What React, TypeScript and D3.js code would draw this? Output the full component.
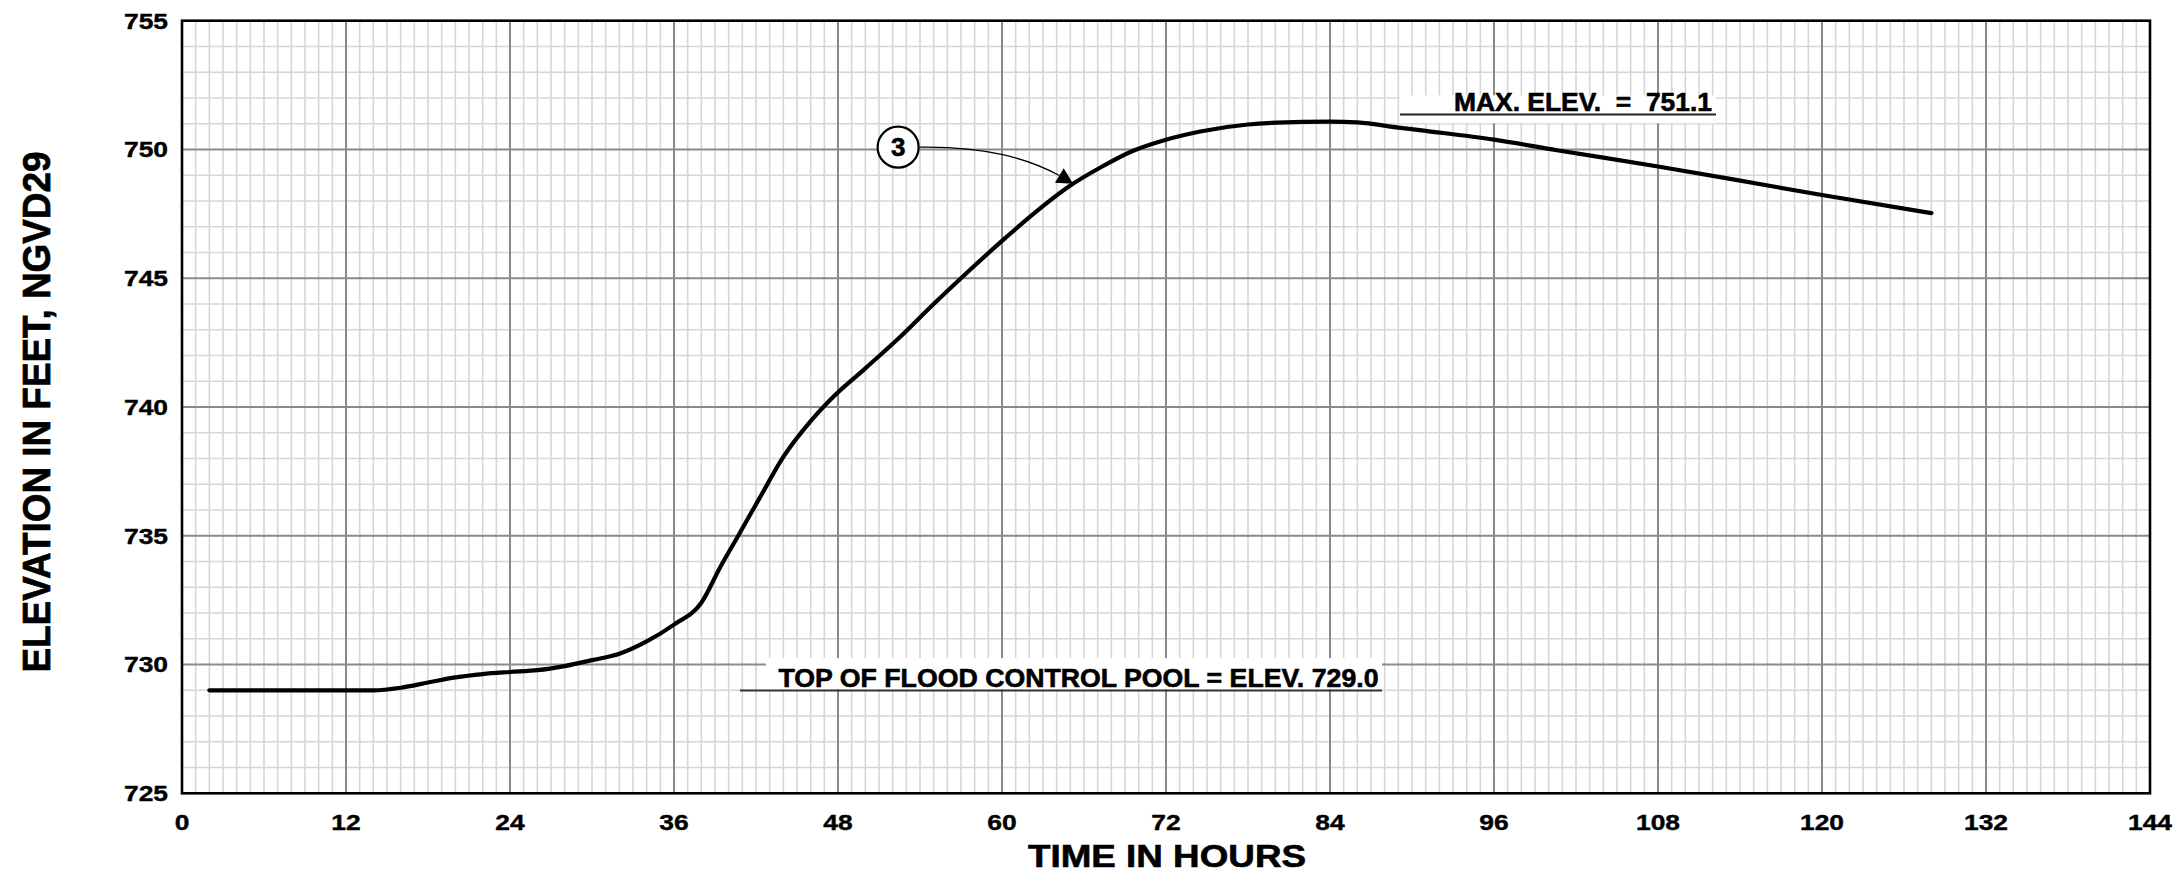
import React from "react";
import * as d3 from "d3";

// ---- data ----
const hours = [2, 14, 16, 18, 20, 22, 24, 26, 28, 30, 32, 34, 36, 38, 39.4, 40.7, 42.3, 44, 46, 47.4, 50, 52.5, 55, 57, 60, 62.3, 65, 67.2, 69.6, 72, 74.5, 78, 82, 84, 86, 89, 91, 96, 100.6, 108, 113.5, 120, 128];
const elevation = [729.0, 729.0, 729.1, 729.3, 729.5, 729.63, 729.71, 729.78, 729.94, 730.17, 730.42, 730.9, 731.55, 732.4, 733.8, 735.0, 736.5, 738.06, 739.45, 740.26, 741.5, 742.7, 744.0, 745.0, 746.45, 747.5, 748.6, 749.3, 749.95, 750.38, 750.7, 750.97, 751.07, 751.08, 751.05, 750.85, 750.72, 750.38, 749.97, 749.34, 748.84, 748.23, 747.53];
const xTickValues = [0, 12, 24, 36, 48, 60, 72, 84, 96, 108, 120, 132, 144];
const yTickValues = [725, 730, 735, 740, 745, 750, 755];
const xLabel = "TIME IN HOURS";
const yLabel = "ELEVATION IN FEET, NGVD29";
const maxLabel = "MAX. ELEV.  =  751.1";
const poolLabel = "TOP OF FLOOD CONTROL POOL = ELEV. 729.0";
const curveId = "3";

const W = 2178;
const H = 882;
const FONT = "'Liberation Sans', Arial, Helvetica, sans-serif";

export default function App() {
  const x = d3.scaleLinear().domain([0, 144]).range([182, 2150]);
  const y = d3.scaleLinear().domain([725, 755]).range([793.3, 20.7]);
  const pts: [number, number][] = hours.map((h, i) => [h, elevation[i]]);
  const line = d3
    .line<[number, number]>()
    .x((d) => x(d[0]))
    .y((d) => y(d[1]))
    .curve(d3.curveMonotoneX);

  const minorX = d3.range(1, 144).filter((h) => h % 12 !== 0);
  const minorY = d3.range(726, 755).filter((v) => v % 5 !== 0);

  // callout "3"
  const cx = x(52.4);
  const cy = y(750.09);
  const r = 20.5;
  const tipX = x(65.2);
  const tipY = y(748.67);
  const ang = (31 * Math.PI) / 180;
  const L = 16;
  const hw = 8.5;
  const bx = tipX - L * Math.cos(ang);
  const by = tipY - L * Math.sin(ang);
  const px = -Math.sin(ang);
  const py = Math.cos(ang);
  const arrow = `M${tipX},${tipY} L${bx + px * hw},${by + py * hw} L${bx - px * hw},${by - py * hw} Z`;
  const leader = `M${cx + r + 1},${cy} C${cx + 90},${cy - 1} ${bx - 30},${by - 16} ${bx},${by}`;

  const heavy = { stroke: "#000", strokeWidth: 0.6 } as const;

  return (
    <svg
      width={W}
      height={H}
      style={{ position: "absolute", left: 0, top: 0, background: "#fff" }}
      fontFamily={FONT}
    >
      <rect x={0} y={0} width={W} height={H} fill="#fff" />
      {/* minor grid */}
      <g stroke="#d6d6d6" strokeWidth={1.6}>
        {minorX.map((h) => (
          <line key={"mx" + h} x1={x(h)} x2={x(h)} y1={y(725)} y2={y(755)} />
        ))}
        {minorY.map((v) => (
          <line key={"my" + v} x1={x(0)} x2={x(144)} y1={y(v)} y2={y(v)} />
        ))}
      </g>
      {/* major grid */}
      <g stroke="#8a8a8a" strokeWidth={2}>
        {xTickValues.slice(1, -1).map((h) => (
          <line key={"Mx" + h} x1={x(h)} x2={x(h)} y1={y(725)} y2={y(755)} />
        ))}
        {yTickValues.slice(1, -1).map((v) => (
          <line key={"My" + v} x1={x(0)} x2={x(144)} y1={y(v)} y2={y(v)} />
        ))}
      </g>

      {/* annotation boxes */}
      <rect x={1400} y={y(752.1)} width={316} height={y(751.0) - y(752.1) - 0.5} fill="#fff" />
      <rect x={766} y={y(730.25)} width={616} height={y(729.0) - y(730.25) - 1} fill="#fff" />

      {/* data line */}
      <path d={line(pts) || ""} fill="none" stroke="#000" strokeWidth={4.2} strokeLinejoin="round" strokeLinecap="round" />

      {/* frame */}
      <rect x={x(0)} y={y(755)} width={x(144) - x(0)} height={y(725) - y(755)} fill="none" stroke="#000" strokeWidth={2.6} />

      {/* ticks labels */}
      <g fontWeight="bold" fontSize={22} fill="#000" {...heavy} strokeWidth={0.4}>
        {xTickValues.map((h) => (
          <text key={"tx" + h} transform={`translate(${x(h)},830) scale(1.2,1)`} textAnchor="middle">
            {h}
          </text>
        ))}
        {yTickValues.map((v) => (
          <text key={"ty" + v} transform={`translate(168,${y(v) + 7.8}) scale(1.2,1)`} textAnchor="end">
            {v}
          </text>
        ))}
      </g>

      {/* axis titles */}
      <text x={1167} y={867} fontSize={31} fontWeight="bold" textAnchor="middle" textLength={278} lengthAdjust="spacingAndGlyphs" {...heavy}>
        {xLabel}
      </text>
      <g transform={`translate(50,412) scale(1.2,1) rotate(-90)`}>
        <text x={0} y={0} fontSize={33} fontWeight="bold" textAnchor="middle" textLength={521} lengthAdjust="spacingAndGlyphs" {...heavy}>
          {yLabel}
        </text>
      </g>

      {/* MAX label */}
      <text x={1454} y={110.7} fontSize={25} fontWeight="bold" textLength={258} lengthAdjust="spacingAndGlyphs" style={{ whiteSpace: "pre" }} {...heavy}>
        {maxLabel}
      </text>
      <line x1={1400} x2={1716} y1={114.5} y2={114.5} stroke="#222" strokeWidth={2} />

      {/* pool label */}
      <text x={778.5} y={686.7} fontSize={25.5} fontWeight="bold" textLength={600} lengthAdjust="spacingAndGlyphs" {...heavy}>
        {poolLabel}
      </text>
      <line x1={740} x2={1382} y1={690.5} y2={690.5} stroke="#333" strokeWidth={2} />

      {/* callout */}
      <path d={leader} fill="none" stroke="#000" strokeWidth={1.3} />
      <path d={arrow} fill="#000" />
      <circle cx={cx} cy={cy} r={r} fill="#fff" stroke="#000" strokeWidth={2.2} />
      <text x={cx} y={cy + 9} fontSize={26} fontWeight="bold" textAnchor="middle" {...heavy}>
        {curveId}
      </text>
    </svg>
  );
}
